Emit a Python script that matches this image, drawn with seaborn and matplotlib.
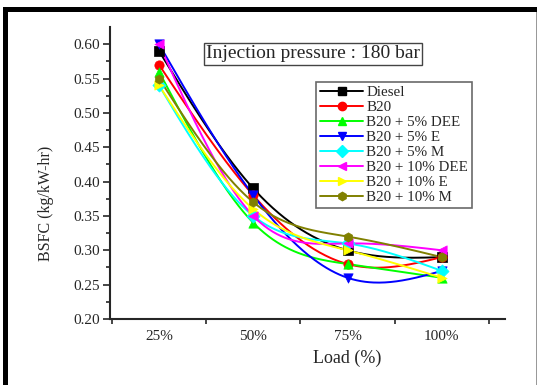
import numpy as np
import pandas as pd
import matplotlib
matplotlib.use("Agg")
import matplotlib.pyplot as plt
import seaborn as sns
from matplotlib.lines import Line2D
from matplotlib.patches import Rectangle
from matplotlib.ticker import FixedLocator

# ---- data ----
loads = ["25%", "50%", "75%", "100%"]
diesel = [0.59, 0.39, 0.30, 0.29]
b20 = [0.57, 0.38, 0.28, 0.29]
b20_5dee = [0.56, 0.34, 0.28, 0.26]
b20_5e = [0.60, 0.38, 0.26, 0.27]
b20_5m = [0.54, 0.35, 0.31, 0.27]
b20_10dee = [0.60, 0.35, 0.31, 0.30]
b20_10e = [0.54, 0.36, 0.30, 0.26]
b20_10m = [0.55, 0.37, 0.32, 0.29]

series_names = ["Diesel", "B20", "B20 + 5% DEE", "B20 + 5% E", "B20 + 5% M",
                "B20 + 10% DEE", "B20 + 10% E", "B20 + 10% M"]
series_vals = [diesel, b20, b20_5dee, b20_5e, b20_5m, b20_10dee, b20_10e, b20_10m]
colors = ["#000000", "#FF0000", "#00FF00", "#0000FF", "#00FFFF",
          "#FF00FF", "#FFFF00", "#808000"]
markers = ["s", "o", "^", "v", "D", "<", ">", "h"]


def natural_spline(x, y, n=200):
    x = np.asarray(x, float); y = np.asarray(y, float)
    k = len(x); h = np.diff(x)
    A = np.zeros((k, k)); r = np.zeros(k)
    A[0, 0] = A[-1, -1] = 1
    for i in range(1, k - 1):
        A[i, i - 1] = h[i - 1]; A[i, i] = 2 * (h[i - 1] + h[i]); A[i, i + 1] = h[i]
        r[i] = 6 * ((y[i + 1] - y[i]) / h[i] - (y[i] - y[i - 1]) / h[i - 1])
    M = np.linalg.solve(A, r)
    xs = np.linspace(x[0], x[-1], n); ys = np.empty_like(xs)
    for j, t in enumerate(xs):
        i = min(np.searchsorted(x, t, side="right") - 1, k - 2)
        a = x[i + 1] - t; b = t - x[i]
        ys[j] = (M[i] * a ** 3 / (6 * h[i]) + M[i + 1] * b ** 3 / (6 * h[i])
                 + (y[i] / h[i] - M[i] * h[i] / 6) * a
                 + (y[i + 1] / h[i] - M[i + 1] * h[i] / 6) * b)
    return xs, ys


sns.set_style("ticks")
plt.rcParams["font.family"] = ["Liberation Serif", "DejaVu Serif"]

fig = plt.figure(figsize=(5.38, 3.85), dpi=100)
ax = fig.add_axes([110 / 538, 1 - 319 / 385, (505 - 110) / 538, (319 - 27) / 385])

xpos = np.arange(1, len(loads) + 1)
handles = []
for name, vals, c, m in zip(series_names, series_vals, colors, markers):
    xs, ys = natural_spline(xpos, vals)
    sns.lineplot(x=xs, y=ys, color=c, lw=1.4, ax=ax, sort=False)
    df = pd.DataFrame({"x": xpos, "y": vals})
    sns.scatterplot(data=df, x="x", y="y", color=c, marker=m, s=45,
                    edgecolor=c, linewidth=0.5, ax=ax, zorder=3)
    handles.append(Line2D([0], [0], color=c, lw=1.4, marker=m, markersize=6,
                          markeredgecolor=c))

ax.set_xlim(0.48, 4.67)
ax.set_ylim(0.2, 0.625)
ax.set_xticks(xpos)
ax.set_xticklabels(loads)
ax.xaxis.set_minor_locator(FixedLocator([0.5, 1.5, 2.5, 3.5, 4.5]))
ax.set_yticks(np.arange(0.20, 0.601, 0.05))
ax.set_yticklabels([f"{v:.2f}" for v in np.arange(0.20, 0.601, 0.05)])
ax.yaxis.set_minor_locator(FixedLocator(np.arange(0.225, 0.62, 0.05)))
ax.tick_params(axis="x", which="major", length=0, pad=8, labelsize=11)
ax.tick_params(axis="x", which="minor", length=3.5, width=1.2, direction="out")
ax.tick_params(axis="y", which="major", length=5, width=1.2, labelsize=11, pad=2)
ax.tick_params(axis="y", which="minor", length=3, width=1.2)
for s in ["top", "right"]:
    ax.spines[s].set_visible(False)
for s in ["left", "bottom"]:
    ax.spines[s].set_linewidth(1.5)

ax.set_xlabel("Load (%)", fontsize=13)
ax.xaxis.set_label_coords((347 - 110) / (505 - 110), -0.105)
ax.set_ylabel("BSFC (kg/kW-hr)", fontsize=11.5)
ax.yaxis.set_label_coords(-0.142, 0.397)

fig.text(313 / 538, 1 - 54 / 385, "Injection pressure : 180 bar", fontsize=14,
         ha="center", va="center",
         bbox=dict(boxstyle="square,pad=0.12", fc="white", ec="#444444", lw=1))

leg = ax.legend(handles, series_names, loc="upper left",
                bbox_to_anchor=((316 - 110) / 395, (319 - 82) / 292),
                fontsize=10.8, frameon=True, fancybox=False, edgecolor="#444444",
                handlelength=2.9, handletextpad=0.2, labelspacing=0.1,
                borderpad=0.25, borderaxespad=0)
leg.get_frame().set_linewidth(1.2)

# figure border
fig.add_artist(Rectangle((3 / 538, 0), 5 / 538, 1 - 7 / 385, transform=fig.transFigure,
                         color="black", lw=0))
fig.add_artist(Rectangle((3 / 538, 1 - 12 / 385), 534 / 538, 5 / 385,
                         transform=fig.transFigure, color="black", lw=0))
fig.add_artist(Rectangle((536 / 538, 0), 1.2 / 538, 1 - 12 / 385,
                         transform=fig.transFigure, color="#999999", lw=0))

fig.savefig("out.png", dpi=100)
